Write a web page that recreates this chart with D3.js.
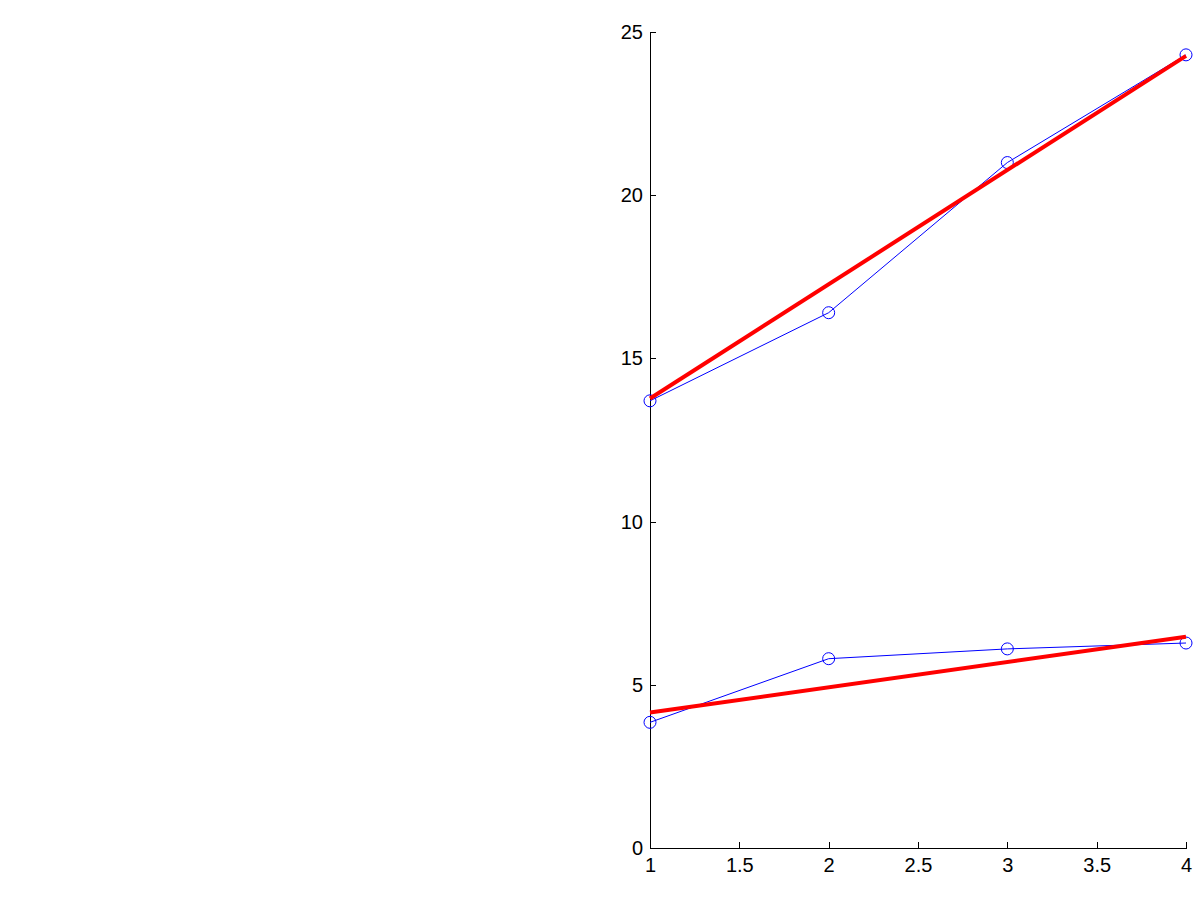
<!DOCTYPE html>
<html>
<head>
<meta charset="utf-8">
<script src="https://cdn.jsdelivr.net/npm/d3@7"></script>
<style>
  body { margin: 0; background: white; }
  .chart text { font-family: "Liberation Sans", Arial, sans-serif; font-size: 20px; fill: black; }
</style>
</head>
<body>
<div class="chart"></div>
<script>
// measured points (blue) and straight fit lines (red)
const xValues = [1, 2, 3, 4];
const upperSeries = [13.7, 16.4, 21.0, 24.3];
const lowerSeries = [3.85, 5.8, 6.1, 6.28];

const fitX = [1, 4];
const upperFit = [13.77, 24.27];
const lowerFit = [4.15, 6.47];

const xTicks = [1, 1.5, 2, 2.5, 3, 3.5, 4];
const yTicks = [0, 5, 10, 15, 20, 25];

const width = 1201;
const height = 901;

const svg = d3
  .select('.chart')
  .append('svg')
  .attr('width', width)
  .attr('height', height)
  .style('background', 'white');

const x = d3.scaleLinear().domain([1, 4]).range([650, 1186]);
const y = d3.scaleLinear().domain([0, 25]).range([848, 32]);

// axes, ticks pointing inward like matlab
const xAxis = svg
  .append('g')
  .attr('transform', 'translate(0,848)')
  .call(
    d3.axisBottom(x)
      .tickValues(xTicks)
      .tickFormat(d3.format('~g'))
      .tickSizeInner(-6)
      .tickSizeOuter(0)
      .tickPadding(6)
  );

const yAxis = svg
  .append('g')
  .attr('transform', 'translate(650,0)')
  .call(
    d3.axisLeft(y)
      .tickValues(yTicks)
      .tickFormat(d3.format('~g'))
      .tickSizeInner(-6)
      .tickSizeOuter(0)
      .tickPadding(7)
  );

[xAxis, yAxis].forEach((g) => {
  g.attr('font-size', null).attr('font-family', null);
  g.selectAll('path, line')
    .attr('stroke', 'black')
    .attr('shape-rendering', 'crispEdges');
});
xAxis.selectAll('text').attr('dy', '0.9em');

const line = d3
  .line()
  .x((d) => x(d[0]))
  .y((d) => y(d[1]));

// blue data series with circle markers
[upperSeries, lowerSeries].forEach((series) => {
  const pts = xValues.map((v, i) => [v, series[i]]);

  svg
    .append('path')
    .datum(pts)
    .attr('d', line)
    .attr('fill', 'none')
    .attr('stroke', '#0000ff')
    .attr('stroke-width', 1);

  svg
    .append('g')
    .selectAll('circle')
    .data(pts)
    .enter()
    .append('circle')
    .attr('cx', (d) => x(d[0]))
    .attr('cy', (d) => y(d[1]))
    .attr('r', 6)
    .attr('fill', 'none')
    .attr('stroke', '#0000ff')
    .attr('stroke-width', 1);
});

// red fit lines on top
[upperFit, lowerFit].forEach((fit) => {
  svg
    .append('path')
    .datum(fitX.map((v, i) => [v, fit[i]]))
    .attr('d', line)
    .attr('fill', 'none')
    .attr('stroke', '#ff0000')
    .attr('stroke-width', 4);
});
</script>
</body>
</html>
